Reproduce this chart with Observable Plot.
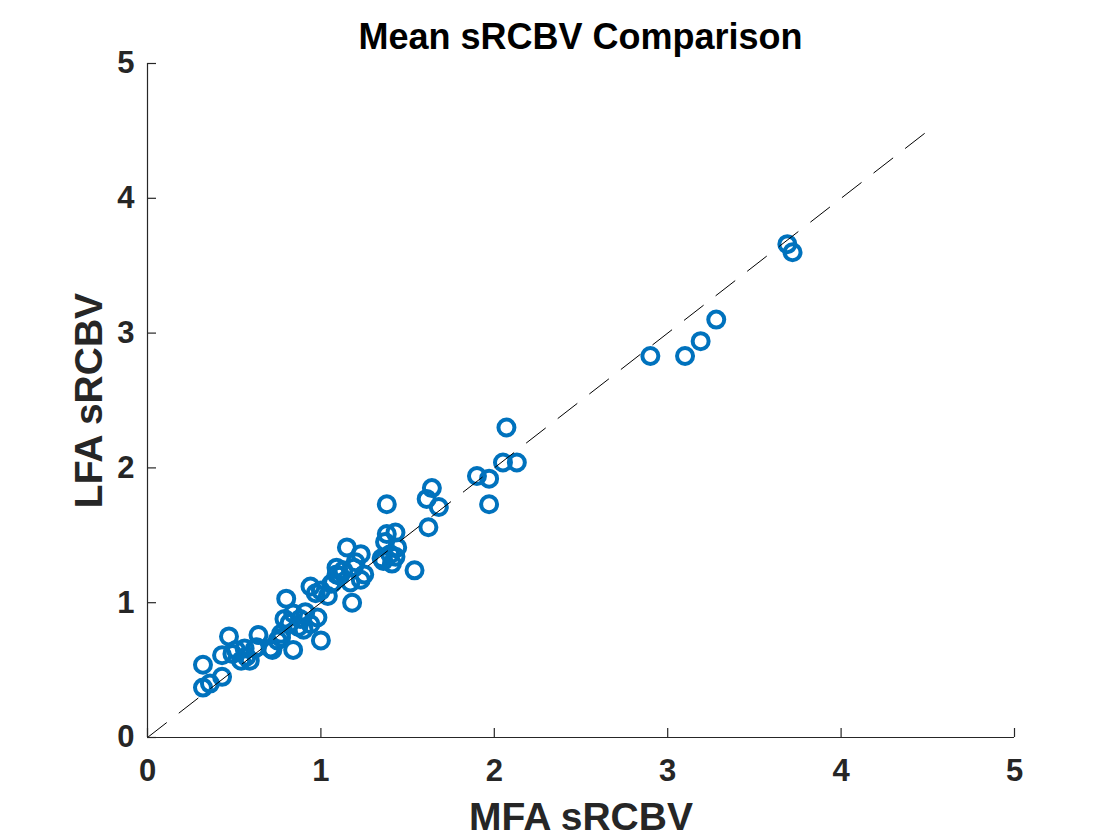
<!DOCTYPE html>
<html>
<head>
<meta charset="utf-8">
<script src="https://cdn.jsdelivr.net/npm/d3@7"></script>
<script src="https://cdn.jsdelivr.net/npm/@observablehq/plot@0.6"></script>
<style>
  html, body { margin: 0; padding: 0; background: #ffffff; }
  #wrap { width: 1120px; }
  #title {
    box-sizing: border-box; height: 50px; padding-top: 23px; line-height: 27px;
    font-family: "Liberation Sans", Arial, Helvetica, sans-serif; font-weight: bold;
    font-size: 36px; color: #000; white-space: nowrap;
    width: 1161px; text-align: center;
  }
</style>
</head>
<body>
<div id="wrap">
  <div id="title">Mean sRCBV Comparison</div>
  <div id="chart"></div>
</div>
<script>
// Data
const mfa = [
  0.32, 0.32, 0.36, 0.43, 0.43, 0.47, 0.49, 0.51, 0.54, 0.56, 0.57, 0.59, 0.62, 0.64, 0.63, 0.71, 0.72, 0.75, 0.77, 0.77,
  0.80, 0.79, 0.84, 0.84, 0.87, 0.91, 0.94, 0.94, 0.97, 0.98, 1.00, 1.00, 0.88, 0.82, 0.90,
  1.06, 1.07, 1.09, 1.09, 1.11, 1.15, 1.17, 1.18, 1.19, 1.23, 1.23, 1.25, 1.20, 1.13, 1.04,
  1.35, 1.36, 1.37, 1.38, 1.38, 1.40, 1.41, 1.43, 1.43, 1.44, 1.54, 1.62, 1.61, 1.64, 1.68,
  1.90, 1.97, 1.97, 2.05, 2.07, 2.13,
  2.90, 3.10, 3.19, 3.28, 3.69, 3.72
];
const lfa = [
  0.54, 0.37, 0.40, 0.45, 0.61, 0.75, 0.62, 0.65, 0.57, 0.66, 0.60, 0.57, 0.66, 0.76, 0.67, 0.66, 0.65, 0.72, 0.74, 0.77,
  1.03, 0.88, 0.92, 0.65, 0.82, 0.93, 0.84, 1.12, 1.07, 0.89, 0.72, 1.09, 0.88, 0.85, 0.80,
  1.14, 1.15, 1.21, 1.26, 1.20, 1.41, 1.15, 1.00, 1.26, 1.36, 1.17, 1.21, 1.30, 1.24, 1.05,
  1.33, 1.31, 1.45, 1.73, 1.51, 1.36, 1.29, 1.52, 1.34, 1.41, 1.24, 1.56, 1.77, 1.85, 1.71,
  1.94, 1.92, 1.73, 2.04, 2.30, 2.04,
  2.83, 2.83, 2.94, 3.10, 3.66, 3.60
];
const identityX = [0, 4.5];
const identityY = [0, 4.5];
const ticks = [0, 1, 2, 3, 4, 5];
const xLabel = "MFA sRCBV";
const yLabel = "LFA sRCBV";

const points = mfa.map((x, i) => ({x, y: lfa[i]}));
const diag = identityX.map((x, i) => ({x, y: identityY[i]}));

const axisColor = "#262626";
const font = "'Liberation Sans', Arial, Helvetica, sans-serif";
const fmt = d3.format("d");

const chart = Plot.plot({
  width: 1120,
  height: 790,
  marginLeft: 147,
  marginRight: 106,
  marginTop: 13,
  marginBottom: 103,
  style: {fontFamily: font, color: axisColor, background: "white", overflow: "visible"},
  x: {domain: [0, 5], ticks: ticks, label: null},
  y: {domain: [0, 5], ticks: ticks, label: null},
  marks: [
    Plot.dot(points, {x: "x", y: "y", r: 8, stroke: "#0072BD", strokeWidth: 4, fill: "none"}),
    Plot.line(diag, {x: "x", y: "y", stroke: "#000", strokeWidth: 1, strokeDasharray: "24,16"}),
    // axis lines (box off)
    Plot.ruleX([0], {y1: 0, y2: 5, stroke: axisColor, strokeWidth: 1.2}),
    Plot.ruleY([0], {x1: 0, x2: 5, stroke: axisColor, strokeWidth: 1.2}),
    // inward tick marks
    Plot.ruleX(ticks, {x: d => d, y1: 0, y2: 9 / 134.75, stroke: axisColor, strokeWidth: 1.2}),
    Plot.ruleY(ticks, {y: d => d, x1: 0, x2: 9 / 173.4, stroke: axisColor, strokeWidth: 1.2}),
    Plot.axisX({ticks: ticks, tickFormat: fmt, tickSize: 0, tickPadding: 21, fontSize: 31, fontWeight: "bold", fill: axisColor, label: null}),
    Plot.axisY({ticks: ticks, tickFormat: fmt, tickSize: 0, tickPadding: 13, fontSize: 31, fontWeight: "bold", fill: axisColor, label: null}),
    Plot.text([xLabel], {frameAnchor: "bottom", dy: 92, fontSize: 39, fontWeight: "bold", fill: axisColor, text: d => d}),
    Plot.text([yLabel], {frameAnchor: "left", dx: -58, textAnchor: "middle", rotate: -90, fontSize: 39, fontWeight: "bold", fill: axisColor, text: d => d})
  ]
});
document.getElementById("chart").appendChild(chart);
</script>
</body>
</html>
